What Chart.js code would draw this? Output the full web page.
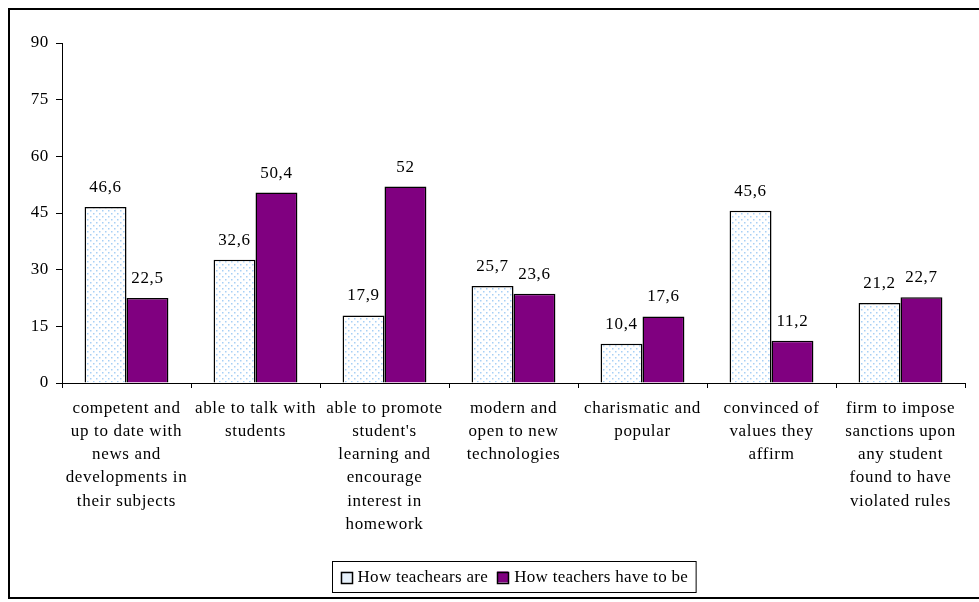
<!DOCTYPE html>
<html>
<head>
<meta charset="utf-8">
<script src="https://cdn.jsdelivr.net/npm/chart.js@4/dist/chart.umd.min.js"></script>
<style>
  html, body { margin: 0; padding: 0; background: #fff; }
  #wrap { width: 979px; height: 602px; position: relative; }
</style>
</head>
<body>
<div id="wrap"><canvas id="teachers"></canvas></div>
<script>
  const categories = [
    ['competent and', 'up to date with', 'news and', 'developments in', 'their subjects'],
    ['able to talk with', 'students'],
    ['able to promote', "student's", 'learning and', 'encourage', 'interest in', 'homework'],
    ['modern and', 'open to new', 'technologies'],
    ['charismatic and', 'popular'],
    ['convinced of', 'values they', 'affirm'],
    ['firm to impose', 'sanctions upon', 'any student', 'found to have', 'violated rules']
  ];
  const seriesNames = ['How teachears are', 'How teachers have to be'];
  const teachersAre = [46.6, 32.6, 17.9, 25.7, 10.4, 45.6, 21.2];
  const teachersShouldBe = [22.5, 50.4, 52, 23.6, 17.6, 11.2, 22.7];
  const yTicks = [0, 15, 30, 45, 60, 75, 90];

  const SERIF = '"Liberation Serif", "Times New Roman", serif';
  const PURPLE = '#800080';
  const SPACING = '0.65px';

  // light blue dotted fill used by the first series
  function dotPattern() {
    const c = document.createElement('canvas');
    c.width = 6; c.height = 6;
    const g = c.getContext('2d');
    g.fillStyle = '#ffffff';
    g.fillRect(0, 0, 6, 6);
    g.fillStyle = '#a8d0f5';
    g.fillRect(0, 0, 1.5, 1.5);
    g.fillRect(3, 3, 1.5, 1.5);
    return g.createPattern(c, 'repeat');
  }

  const fmt = v => String(v).replace('.', ',');

  // wide-set serif text everywhere, like the original office chart
  const letterSpacing = {
    id: 'letterSpacing',
    beforeDraw(chart) { chart.ctx.letterSpacing = SPACING; }
  };

  const valueLabels = {
    id: 'valueLabels',
    afterDatasetsDraw(chart) {
      const ctx = chart.ctx;
      ctx.save();
      ctx.letterSpacing = SPACING;
      ctx.font = '17px ' + SERIF;
      ctx.fillStyle = '#000';
      ctx.textAlign = 'center';
      ctx.textBaseline = 'bottom';
      chart.data.datasets.forEach((ds, i) => {
        chart.getDatasetMeta(i).data.forEach((bar, j) => {
          ctx.fillText(fmt(ds.data[j]), bar.x, bar.y - 11);
        });
      });
      ctx.restore();
    }
  };

  // outer frame and boxed legend under the axis labels
  const frameAndLegend = {
    id: 'frameAndLegend',
    afterDraw(chart) {
      const ctx = chart.ctx;
      const W = chart.width;
      ctx.save();
      ctx.strokeStyle = '#000';
      ctx.lineWidth = 2;
      ctx.strokeRect(9, 9, W + 10, 589);

      ctx.letterSpacing = '0.3px';
      ctx.font = '17px ' + SERIF;
      ctx.textBaseline = 'middle';
      const box = 11, gap = 6, between = 9, padX = 8;
      const items = chart.data.datasets.map(ds => ({
        label: ds.label, fill: ds.legendFill, w: box + gap + ctx.measureText(ds.label).width
      }));
      const total = items.reduce((s, it) => s + it.w, 0) + between * (items.length - 1) + padX * 2;
      const left = Math.round((chart.chartArea.left + chart.chartArea.right - total) / 2) + 0.5;
      const top = 561.5, height = 31;
      ctx.lineWidth = 1;
      ctx.strokeRect(left, top, total, height);
      let x = left + padX;
      const cy = top + height / 2;
      items.forEach(it => {
        ctx.fillStyle = it.fill;
        ctx.fillRect(x, cy - box / 2, box, box);
        ctx.lineWidth = 1.5;
        ctx.strokeRect(Math.round(x) + 0.5, Math.round(cy - box / 2) + 0.5, box, box);
        ctx.fillStyle = '#000';
        ctx.fillText(it.label, x + box + gap, cy + 1);
        x += it.w + between;
      });
      ctx.restore();
    }
  };

  const pattern = dotPattern();

  new Chart(document.getElementById('teachers'), {
    type: 'bar',
    data: {
      labels: categories,
      datasets: [
        {
          label: seriesNames[0],
          data: teachersAre,
          backgroundColor: pattern,
          legendFill: '#e6f1fc',
          borderColor: '#000',
          borderWidth: 1.5,
          borderSkipped: 'bottom'
        },
        {
          label: seriesNames[1],
          data: teachersShouldBe,
          backgroundColor: PURPLE,
          legendFill: PURPLE,
          borderColor: '#000',
          borderWidth: 1.5,
          borderSkipped: 'bottom'
        }
      ]
    },
    options: {
      responsive: true,
      maintainAspectRatio: false,
      animation: false,
      layout: { padding: { left: 8, right: 14, top: 43, bottom: 49 } },
      datasets: { bar: { categoryPercentage: 0.65, barPercentage: 1 } },
      plugins: {
        legend: { display: false },
        tooltip: { enabled: false }
      },
      scales: {
        x: {
          grid: { display: true, drawOnChartArea: false, color: '#000', tickLength: 5, offset: true },
          border: { color: '#000', width: 1 },
          ticks: {
            color: '#000',
            font: { family: SERIF, size: 17, lineHeight: 1.36 },
            padding: 9,
            maxRotation: 0,
            autoSkip: false
          },
          afterFit: scale => { scale.height = 170; }
        },
        y: {
          min: 0,
          max: 90,
          afterBuildTicks: scale => { scale.ticks = yTicks.map(v => ({ value: v })); },
          grid: { display: true, drawOnChartArea: false, color: '#000', tickLength: 6 },
          border: { color: '#000', width: 1 },
          ticks: {
            color: '#000',
            font: { family: SERIF, size: 17 },
            padding: 7
          },
          afterFit: scale => { scale.width = 54; }
        }
      }
    },
    plugins: [letterSpacing, valueLabels, frameAndLegend]
  });
</script>
</body>
</html>
